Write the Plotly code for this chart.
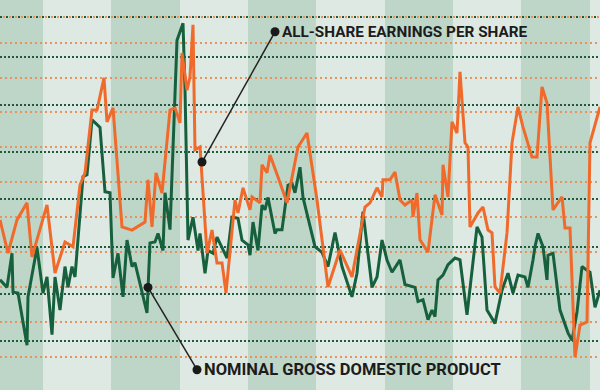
import plotly.graph_objects as go

# ---- data (time in months since Jan 1960; values in % growth) ----
gdp_months = [0, 7, 12, 13, 18, 27, 28, 37, 43, 47, 52, 55, 60, 65, 68, 72, 75, 83, 87, 92,
              95, 100, 105, 110, 113, 118, 123, 127, 132, 135, 147, 150, 155, 158, 163, 165, 170, 177, 183, 185,
              188, 193, 198, 200, 205, 208, 213, 217, 227, 232, 238, 242, 248, 250, 253, 258, 262, 265, 268, 272,
              275, 277, 282, 288, 292, 295, 300, 303, 308, 315, 322, 328, 335, 342, 352, 357, 363, 368, 372, 377,
              382, 387, 392, 400, 405, 415, 418, 423, 428, 432, 435, 438, 443, 448, 455, 460, 467, 477, 482, 487,
              495, 502, 508, 513, 518, 525, 528, 533, 535, 538, 543, 547, 548, 553, 560, 568, 572, 577, 582, 587,
              590, 595, 600]
gdp_growth = [1.5, 0.7, 4.3, 0.2, 0.1, -5.4, -0.3, 4.9, 0.1, 1.8, -4.3, 1.8, -1.7, 2.9, 0.7, 2.9, 1.8, 12.4, 12.6, 18.4,
              18.1, 17.6, 10.8, 10.7, 1.7, 4.3, -0.3, 5.7, 2.9, 3.3, -2.0, 5.4, 5.5, 6.4, 4.6, 10.7, 6.8, 26.8, 28.6, 21.6,
              5.7, 8.1, 4.6, 6.4, 2.2, 4.6, 4.3, 6.0, 3.8, 8.1, 8.0, 5.7, 5.2, 4.1, 7.6, 4.6, 9.4, 8.9, 10.2, 8.1,
              6.4, 6.8, 6.8, 11.5, 11.7, 10.7, 13.4, 10.2, 8.1, 5.0, 4.4, 2.9, 6.5, 2.9, -0.3, 2.2, 8.7, 3.9, 0.7, 1.8,
              5.7, 3.6, 2.3, 3.6, 1.0, 0.7, -0.8, -0.6, -2.7, -1.7, -2.4, 1.5, 2.0, 3.1, 3.8, 3.6, -2.2, 7.1, 6.0, -1.7,
              -3.1, 0.4, 2.2, 0.1, 2.0, 1.8, 0.7, 3.6, 5.0, 6.4, 5.0, 1.5, 4.1, 4.3, -1.7, -4.1, -4.9, -1.9, 2.9, 2.5,
              2.3, -1.4, 0.4]

eps_months = [0, 8, 17, 27, 32, 47, 55, 60, 65, 73, 80, 85, 92, 97, 104, 107, 113, 122, 132, 145,
              148, 152, 156, 162, 170, 175, 180, 182, 187, 190, 193, 195, 200, 207, 212, 217, 222, 226, 230, 235,
              238, 243, 250, 252, 260, 262, 267, 270, 278, 287, 298, 307, 317, 328, 340, 352, 365, 370, 377, 382,
              383, 390, 395, 400, 405, 412, 413, 417, 420, 428, 435, 442, 443, 448, 452, 457, 460, 465, 468, 470,
              478, 483, 488, 492, 495, 500, 507, 512, 518, 523, 532, 537, 542, 547, 553, 562, 565, 570, 575, 580,
              587, 590, 600]
eps_growth = [19.2, 9.7, 19.2, 24.1, 8.6, 23.5, 4.0, 8.6, 12.9, 11.5, 29.2, 32.7, 50.7, 50.7, 59.9, 47.3, 51.3, 17.2, 16.3, 18.6,
              30.7, 17.2, 32.7, 26.9, 50.7, 51.3, 47.0, 67.0, 56.4, 60.2, 75.1, 39.3, 40.1, 9.7, 16.3, 6.9, 6.9, -1.7, 9.7, 24.9,
              21.2, 28.4, 22.1, 25.8, 24.1, 35.0, 32.7, 37.8, 31.5, 24.1, 40.1, 44.1, 24.9, 0.0, 10.6, 2.9, 22.9, 24.1, 28.4, 25.8,
              30.7, 30.7, 32.9, 24.9, 23.5, 24.9, 20.1, 26.9, 13.5, 10.0, 26.4, 20.6, 35.0, 25.8, 47.3, 44.1, 61.6, 41.3, 40.1, 17.2,
              21.2, 22.9, 16.3, 15.5, 0.0, -1.7, 15.5, 41.3, 51.6, 45.8, 37.2, 37.2, 57.3, 52.7, 22.1, 25.8, 16.9, 16.9, -20.1, -10.9,
              -10.0, 41.3, 51.6]

gdp_label = "NOMINAL GROSS DOMESTIC PRODUCT"
eps_label = "ALL-SHARE EARNINGS PER SHARE"
gdp_ticks = [-5, 0, 5, 10, 15, 20, 25]
eps_ticks = [-20, -10, 0, 10, 20, 30, 40, 50, 60, 70]
stripe_bounds = [0, 43, 111, 180, 248, 316, 385, 453, 521, 590, 600]  # months

# callout anchor points (on line) and label positions
eps_callout_m = [202, 275]
eps_callout_v = [35.8, 73.1]
gdp_callout_m = [148, 197]
gdp_callout_v = [0.7, -8.0]


def yr(m):
    return 1960 + m / 12.0


GREEN = "#17603d"
ORANGE = "#f06a2b"
DARK_BG = "#bed6c8"
LIGHT_BG = "#dde9e2"

fig = go.Figure()

fig.add_trace(go.Scatter(x=[yr(m) for m in gdp_months], y=gdp_growth, mode="lines",
                         line=dict(color=GREEN, width=3), yaxis="y", hoverinfo="skip"))
fig.add_trace(go.Scatter(x=[yr(m) for m in eps_months], y=eps_growth, mode="lines",
                         line=dict(color=ORANGE, width=3), yaxis="y2", hoverinfo="skip"))

# callouts
fig.add_trace(go.Scatter(x=[yr(m) for m in eps_callout_m], y=eps_callout_v, mode="lines+markers",
                         line=dict(color="#222222", width=1.5), marker=dict(color="#1a1a1a", size=9),
                         yaxis="y2", hoverinfo="skip"))
fig.add_trace(go.Scatter(x=[yr(m) for m in gdp_callout_m], y=gdp_callout_v, mode="lines+markers",
                         line=dict(color="#222222", width=1.5), marker=dict(color="#1a1a1a", size=9),
                         yaxis="y", hoverinfo="skip"))

shapes = []
for i in range(len(stripe_bounds) - 1):
    if i % 2 == 0:
        shapes.append(dict(type="rect", xref="x", yref="paper",
                           x0=yr(stripe_bounds[i]), x1=yr(stripe_bounds[i + 1]), y0=0, y1=1,
                           fillcolor=DARK_BG, line=dict(width=0), layer="below"))
# top mixed dotted rule
shapes.append(dict(type="line", xref="paper", yref="paper", x0=0, x1=1, y0=1 - 17 / 390, y1=1 - 17 / 390,
                   line=dict(color="#1f5a3d", width=2, dash="2px,4px"), layer="below"))
shapes.append(dict(type="line", xref="paper", yref="paper", x0=3 / 600, x1=1, y0=1 - 17 / 390, y1=1 - 17 / 390,
                   line=dict(color="#e8925c", width=2, dash="2px,4px"), layer="below"))

annotations = [
    dict(x=yr(eps_callout_m[1]), y=eps_callout_v[1], xref="x", yref="y2", text=eps_label,
         showarrow=False, xanchor="left", yanchor="middle", xshift=5,
         font=dict(family="Roboto", size=15.3, color="#1c1c1c", weight="bold")),
    dict(x=yr(gdp_callout_m[1]), y=gdp_callout_v[1], xref="x", yref="y", text=gdp_label,
         showarrow=False, xanchor="left", yanchor="middle", xshift=5,
         font=dict(family="Roboto", size=16.5, color="#1c1c1c", weight="bold")),
]

fig.update_layout(
    width=600, height=390,
    margin=dict(l=0, r=0, t=0, b=0),
    paper_bgcolor=LIGHT_BG, plot_bgcolor=LIGHT_BG,
    showlegend=False,
    shapes=shapes,
    annotations=annotations,
    xaxis=dict(range=[yr(0), yr(600)], showgrid=False, zeroline=False, showticklabels=False,
               ticks="", showline=False),
    yaxis=dict(range=[-10.14, 31.06], tickvals=gdp_ticks, showgrid=True, gridcolor="#1f5a3d",
               gridwidth=2, griddash="2px,2px", zeroline=False, showticklabels=False, ticks="",
               showline=False),
    yaxis2=dict(range=[-29.5, 82.2], tickvals=eps_ticks, overlaying="y", showgrid=True,
                gridcolor="#e8925c", gridwidth=2, griddash="2px,3px", zeroline=False,
                showticklabels=False, ticks="", showline=False),
)

fig.write_html("out.html", config={"displayModeBar": False},
               post_script="document.body.style.margin='0';document.body.style.padding='0';")
